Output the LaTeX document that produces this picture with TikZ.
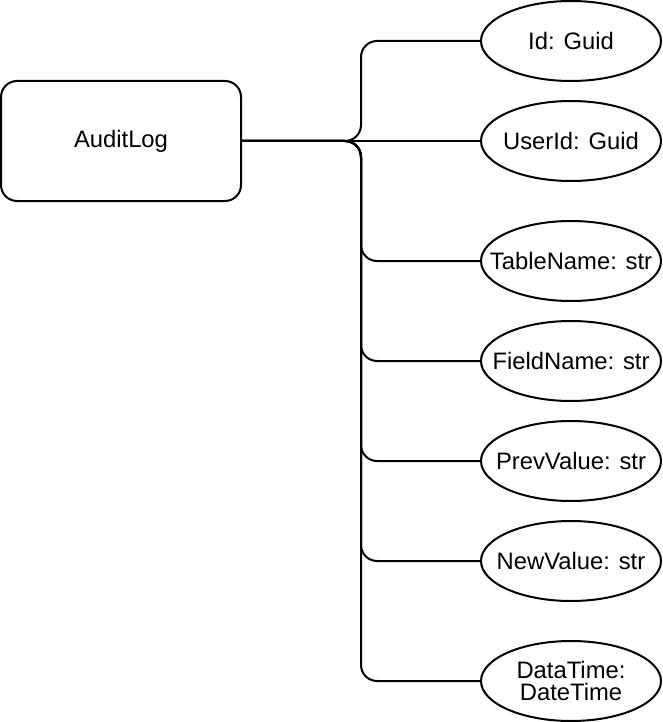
\documentclass[tikz,border=0pt]{standalone}
\usepackage{fontspec}
\setmainfont{Liberation Sans}
\usetikzlibrary{shapes.geometric}
\newcommand{\ztext}[1]{\makebox[0pt]{#1}}
\begin{document}
\begin{tikzpicture}[x=1pt,y=-1pt,
  every node/.style={font=\fontsize{23.8}{22}\selectfont, inner sep=0pt, outer sep=0pt},
  box/.style={draw, line width=2pt, rounded corners=16pt, minimum width=240pt, minimum height=120pt},
  attr/.style={draw, line width=2pt, ellipse, minimum width=180pt, minimum height=80pt},
  conn/.style={draw, line width=2pt, rounded corners=16pt}]
\useasboundingbox (0,0) rectangle (662,722);
\node[box] (audit) at (121,141) {AuditLog};
\node[attr] (id) at (571,41) {\ztext{Id: Guid}};
\node[attr] (userid) at (571,141) {\ztext{UserId: Guid}};
\node[attr] (table) at (571,261) {\ztext{TableName: str}};
\node[attr] (field) at (571,361) {\ztext{FieldName: str}};
\node[attr] (prev) at (571,461) {\ztext{PrevValue: str}};
\node[attr] (new) at (571,561) {\ztext{NewValue: str}};
\node[attr] (dt) at (571,681) {\ztext{\parbox{170pt}{\centering DataTime:\\DateTime}}};
\coordinate (j) at (361,141);
\draw[conn] (audit.east) -- (userid.west);
\foreach \t in {id,table,field,prev,new,dt}
  \draw[conn] (audit.east) -- (j) |- (\t.west);
\end{tikzpicture}
\end{document}
